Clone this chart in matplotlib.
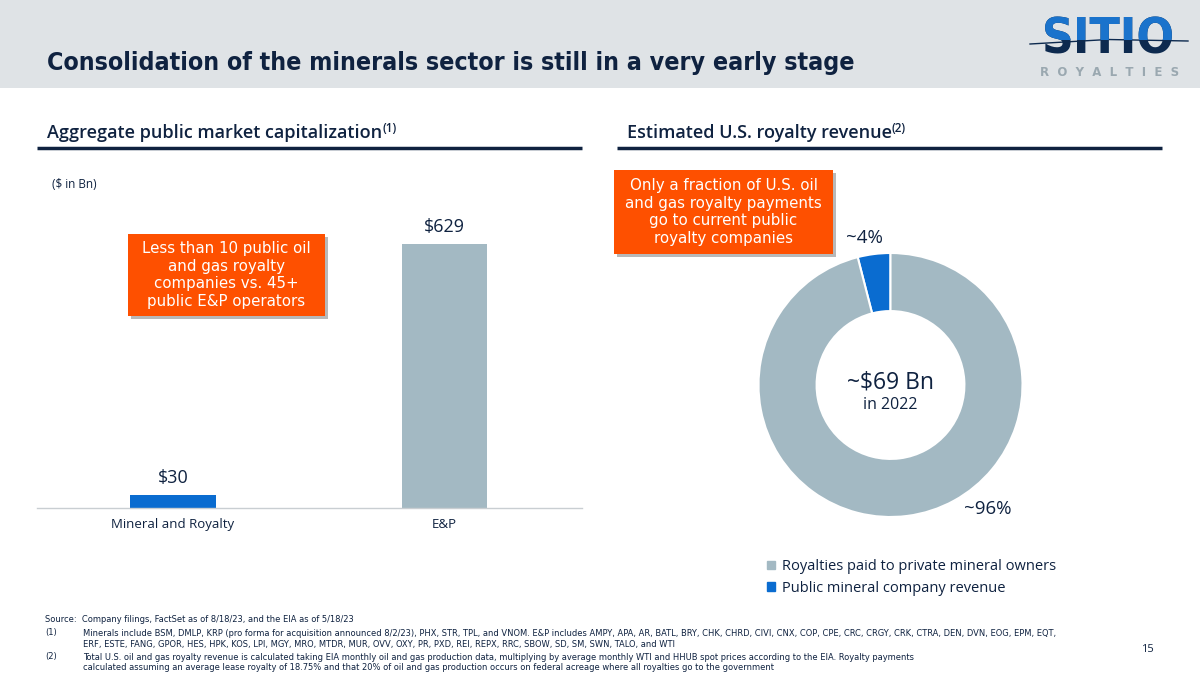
import numpy as np
import matplotlib
matplotlib.use("Agg")
from matplotlib import pyplot as plt
from matplotlib.patches import Rectangle, Patch

# data
bar_categories = ["Mineral and Royalty", "E&P"]
bar_values = [30, 629]
bar_labels = ["$30", "$629"]
pie_labels = ["Public mineral company revenue", "Royalties paid to private mineral owners"]
pie_values = [4, 96]
pie_pct_labels = ["~4%", "~96%"]

NAVY = "#0f2240"
BLUE = "#0a6cd0"
GRAY = "#a3b9c3"
ORANGE = "#fe5000"
FONT = "Open Sans"

plt.rcParams['font.family'] = [FONT, 'DejaVu Sans']

fig = plt.figure(figsize=(12, 6.75), dpi=100)
renderer = fig.canvas.get_renderer()


def fit(t, width):
    # shrink / grow a text so that it spans the given pixel width
    w = t.get_window_extent(renderer).width
    t.set_fontsize(t.get_fontsize() * width / w)
    return t


# background axes in pixel coordinates
bg = fig.add_axes([0, 0, 1, 1], zorder=0)
bg.set_xlim(0, 1200)
bg.set_ylim(675, 0)
bg.axis("off")

# header band
bg.add_patch(Rectangle((0, 0), 1200, 88, color="#dfe3e6", lw=0))
title = bg.text(47, 63, "Consolidation of the minerals sector is still in a very early stage",
                fontsize=22, fontweight="bold", family="DejaVu Sans", fontstretch="condensed",
                color=NAVY, va="center", ha="left")
fit(title, 806)

# logo: navy lower half, blue upper half
logo_kw = dict(fontsize=26, fontweight="bold", family="DejaVu Sans", fontstretch="condensed",
               ha="center", va="center")
low = fit(bg.text(1108, 40, "SITIO", color="#0d2a4f", **logo_kw), 133)
top = fit(bg.text(1108, 40, "SITIO", color="#1a73cc", **logo_kw), 133)
clip = Rectangle((1020, 0), 180, 40, transform=bg.transData)
top.set_clip_on(True)
top.set_clip_path(clip)
bg.plot([1030, 1108, 1188], [44, 39.5, 41], color="#0d2a4f", lw=1.0)
bg.text(1110, 72, "R  O  Y  A  L  T  I  E  S", fontsize=8.5, color="#9aa8b0",
        fontweight="bold", ha="center", va="center", family="DejaVu Sans")

# section headings
def heading(x, y, txt, note):
    t = bg.text(x, y, txt, fontsize=13, fontweight="semibold", color=NAVY, va="center", ha="left")
    bg.annotate(note, xy=(1, 0.75), xycoords=t, fontsize=8.5, color=NAVY,
                va="center", ha="left", fontweight="semibold")

heading(47, 133, "Aggregate public market capitalization", "(1)")
heading(627, 133, "Estimated U.S. royalty revenue", "(2)")
bg.plot([37, 582], [148, 148], color=NAVY, lw=2.5, solid_capstyle="butt")
bg.plot([617, 1162], [148, 148], color=NAVY, lw=2.5, solid_capstyle="butt")

bg.text(52, 185, "($ in Bn)", fontsize=8.5, color=NAVY, va="center")

# bar chart
y_base, y_top = 508, 200
ax = fig.add_axes([37 / 1200, 1 - y_base / 675, 545 / 1200, (y_base - y_top) / 675], zorder=2)
ax.patch.set_alpha(0)
x = np.arange(len(bar_categories))
ax.bar(x, bar_values, width=0.314, color=[BLUE, GRAY], zorder=2)
ax.set_xlim(-0.502, 1.509)
ax.set_ylim(0, 629 * (y_base - y_top) / (y_base - 244))
for xi, v, lab in zip(x, bar_values, bar_labels):
    ax.annotate(lab, xy=(xi, v), xytext=(0, 6), textcoords="offset points",
                ha="center", va="bottom", fontsize=13, color=NAVY)
ax.set_xticks(x)
ax.set_xticklabels(bar_categories, fontsize=9.5, color=NAVY)
ax.tick_params(axis="x", length=0, pad=7)
ax.set_yticks([])
for s in ["top", "right", "left"]:
    ax.spines[s].set_visible(False)
ax.spines["bottom"].set_color("#c9ced2")
ax.spines["bottom"].set_linewidth(1)

# donut
cx, cy, r = 890.5, 385, 132
pax = fig.add_axes([(cx - r) / 1200, 1 - (cy + r) / 675, 2 * r / 1200, 2 * r / 675], zorder=2)
pax.pie(pie_values, colors=[BLUE, GRAY], startangle=90, counterclock=True,
        wedgeprops=dict(width=0.44, edgecolor="white", linewidth=1.5))
pax.set_xlim(-1, 1)
pax.set_ylim(-1, 1)
pax.text(-0.2, 1.11, pie_pct_labels[0], fontsize=13.5, color=NAVY, ha="center", va="center")
pax.text(0.74, -0.94, pie_pct_labels[1], fontsize=13.5, color=NAVY, ha="center", va="center")
pax.text(0, 0.02, "~$69 Bn", fontsize=16.5, color=NAVY, ha="center", va="center")
pax.text(0, -0.15, "in 2022", fontsize=11.5, color=NAVY, ha="center", va="center")

handles = [Patch(color=GRAY), Patch(color=BLUE)]
fig.legend(handles, [pie_labels[1], pie_labels[0]], loc="upper left",
           bbox_to_anchor=(754 / 1200, 1 - 546 / 675), frameon=False, fontsize=10.5,
           handlelength=0.55, handleheight=0.55, handletextpad=0.45, labelspacing=0.45,
           labelcolor=NAVY)

# callout boxes
def callout(x0, y0, x1, y1, lines):
    bg.add_patch(Rectangle((x0 + 3, y0 + 3), x1 - x0, y1 - y0, color="#b8b8b8", lw=0, zorder=3))
    bg.add_patch(Rectangle((x0, y0), x1 - x0, y1 - y0, color=ORANGE, lw=0, zorder=4))
    bg.text((x0 + x1) / 2, (y0 + y1) / 2, "\n".join(lines), color="white", fontsize=10.8,
            ha="center", va="center", linespacing=1.22, zorder=5, family="DejaVu Sans")

callout(128, 234, 325, 316, ["Less than 10 public oil", "and gas royalty",
                             "companies vs. 45+", "public E&P operators"])
callout(614, 170, 833, 254, ["Only a fraction of U.S. oil", "and gas royalty payments",
                             "go to current public", "royalty companies"])

# footnotes, one common size
fn = dict(fontsize=7.3, color=NAVY, family="DejaVu Sans", fontstretch="condensed",
          va="center", ha="left")
notes = [
    (45, 620, "Source:  Company filings, FactSet as of 8/18/23, and the EIA as of 5/18/23", 330),
    (83, 633, "Minerals include BSM, DMLP, KRP (pro forma for acquisition announced 8/2/23), PHX, STR, TPL, and VNOM. "
              "E&P includes AMPY, APA, AR, BATL, BRY, CHK, CHRD, CIVI, CNX, COP, CPE, CRC, CRGY, CRK, CTRA, DEN, DVN, EOG, EPM, EQT,", 930),
    (83, 645, "ERF, ESTE, FANG, GPOR, HES, HPK, KOS, LPI, MGY, MRO, MTDR, MUR, OVV, OXY, PR, PXD, REI, REPX, RRC, "
              "SBOW, SD, SM, SWN, TALO, and WTI", 612),
    (83, 657, "Total U.S. oil and gas royalty revenue is calculated taking EIA monthly oil and gas production data, "
              "multiplying by average monthly WTI and HHUB spot prices according to the EIA. Royalty payments", 828),
    (83, 668, "calculated assuming an average lease royalty of 18.75% and that 20% of oil and gas production occurs "
              "on federal acreage where all royalties go to the government", 652),
]
texts = [fit(bg.text(nx, ny, s, **fn), w) for nx, ny, s, w in notes]
size = float(np.median([t.get_fontsize() for t in texts]))
for t in texts:
    t.set_fontsize(size)
fn["fontsize"] = size
bg.text(45, 633, "(1)", **fn)
bg.text(45, 657, "(2)", **fn)
bg.text(1147, 649, "15", fontsize=8, color=NAVY, ha="center", va="center")

fig.savefig("out.png", dpi=100)
